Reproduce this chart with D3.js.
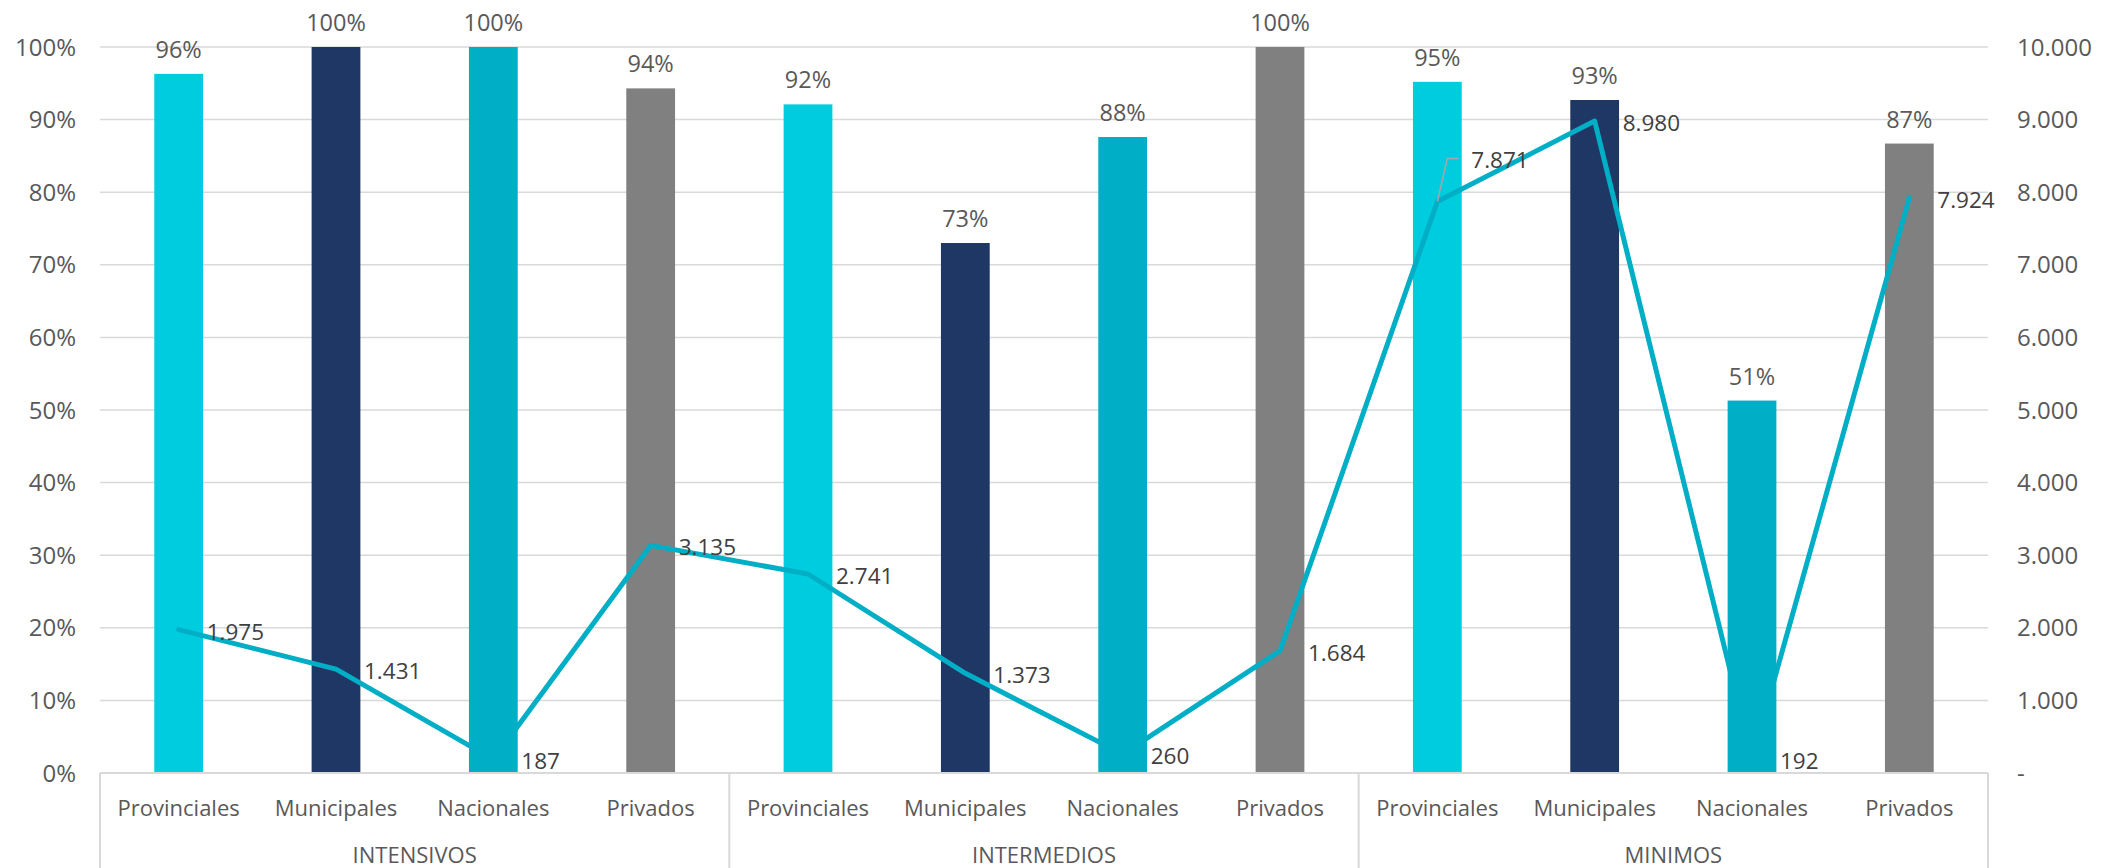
<!DOCTYPE html>
<html>
<head>
<meta charset="utf-8">
<script src="https://cdn.jsdelivr.net/npm/d3@7"></script>
<style>
  html, body { margin: 0; padding: 0; background: #ffffff; }
  svg { display: block; }
  text { font-family: "Open Sans", "Noto Sans", sans-serif; }
</style>
</head>
<body>
<svg id="chart" width="2106" height="868"></svg>
<script>
// ---- data ----
const groups = ["INTENSIVOS", "INTERMEDIOS", "MINIMOS"];
const types = ["Provinciales", "Municipales", "Nacionales", "Privados"];
const pctValues = [0.963, 1.0, 1.0, 0.943, 0.921, 0.730, 0.876, 1.0, 0.952, 0.927, 0.513, 0.867];
const countValues = [1975, 1431, 187, 3135, 2741, 1373, 260, 1684, 7871, 8980, 192, 7924];
const pctTicks = [0, 0.1, 0.2, 0.3, 0.4, 0.5, 0.6, 0.7, 0.8, 0.9, 1.0];
const countTicks = [0, 1000, 2000, 3000, 4000, 5000, 6000, 7000, 8000, 9000, 10000];
const typeColors = ["#00CCE0", "#1F3765", "#00AEC5", "#808080"];
const lineColor = "#00AEC5";

// ---- layout ----
const W = 2106, H = 868;
const mLeft = 100, mRight = 1988, mTop = 47, mBottom = 773;

const rows = [];
groups.forEach((g, gi) => types.forEach((t, ti) => {
  const i = gi * types.length + ti;
  rows.push({ i, group: g, type: t, ti, pct: pctValues[i], count: countValues[i] });
}));

const svg = d3.select("#chart");

const x = d3.scaleBand().domain(rows.map(d => d.i)).range([mLeft, mRight])
  .paddingInner(0.69).paddingOuter(0.345);
const xg = d3.scaleBand().domain(groups).range([mLeft, mRight]);
const yL = d3.scaleLinear().domain([0, 1]).range([mBottom, mTop]);
const yR = d3.scaleLinear().domain([0, 10000]).range([mBottom, mTop]);
const cx = i => x(i) + x.bandwidth() / 2;
const fmtCount = v => d3.format(",")(v).replace(/,/g, ".");

// gridlines
svg.append("g").selectAll("line").data(pctTicks.slice(1)).join("line")
  .attr("x1", mLeft).attr("x2", mRight)
  .attr("y1", d => yL(d)).attr("y2", d => yL(d))
  .attr("stroke", "#d9d9d9").attr("stroke-width", 1.5);

// left axis
const axL = svg.append("g").attr("transform", `translate(${mLeft - 24},0)`)
  .call(d3.axisLeft(yL).tickValues(pctTicks).tickSize(0).tickPadding(0)
    .tickFormat(d => Math.round(d * 100) + "%"));
axL.select(".domain").remove();
axL.selectAll("text").attr("font-size", 24).attr("fill", "#595959")
  .attr("font-family", "Open Sans").attr("dy", "0.34em");

// right axis
const axR = svg.append("g").attr("transform", `translate(2017,0)`)
  .call(d3.axisRight(yR).tickValues(countTicks).tickSize(0).tickPadding(0)
    .tickFormat(d => d === 0 ? "-" : fmtCount(d)));
axR.select(".domain").remove();
axR.selectAll("text").attr("font-size", 24).attr("fill", "#595959")
  .attr("font-family", "Open Sans").attr("dy", "0.34em").attr("text-anchor", "start");

// bars
svg.append("g").selectAll("rect").data(rows).join("rect")
  .attr("x", d => x(d.i)).attr("width", x.bandwidth())
  .attr("y", d => yL(d.pct)).attr("height", d => mBottom - yL(d.pct))
  .attr("fill", d => typeColors[d.ti]);

// bar labels
svg.append("g").selectAll("text").data(rows).join("text")
  .attr("x", d => cx(d.i)).attr("y", d => yL(d.pct) - 16)
  .attr("text-anchor", "middle").attr("font-size", 23.5).attr("fill", "#595959")
  .text(d => Math.round(d.pct * 100) + "%");

// category axis lines
const axG = svg.append("g");
axG.append("line").attr("x1", mLeft).attr("x2", mRight).attr("y1", mBottom).attr("y2", mBottom)
  .attr("stroke", "#d9d9d9").attr("stroke-width", 2);
const dividers = groups.map(g => xg(g)).concat([mRight]);
axG.selectAll("line.div").data(dividers).join("line").attr("class", "div")
  .attr("x1", d => d).attr("x2", d => d).attr("y1", mBottom).attr("y2", H)
  .attr("stroke", "#d9d9d9").attr("stroke-width", 2);

// category labels
svg.append("g").selectAll("text").data(rows).join("text")
  .attr("x", d => cx(d.i)).attr("y", 816)
  .attr("text-anchor", "middle").attr("font-size", 22).attr("fill", "#595959")
  .text(d => d.type);

// group labels
svg.append("g").selectAll("text").data(groups).join("text")
  .attr("x", d => xg(d) + xg.bandwidth() / 2).attr("y", 863)
  .attr("text-anchor", "middle").attr("font-size", 22).attr("fill", "#595959")
  .text(d => d);

// line
const line = d3.line().x(d => cx(d.i)).y(d => yR(d.count));
svg.append("path").datum(rows).attr("d", line)
  .attr("fill", "none").attr("stroke", lineColor).attr("stroke-width", 5)
  .attr("stroke-linejoin", "round").attr("stroke-linecap", "round");

// line labels (one label moved up with a leader line)
const movedLabels = { 8: { dy: -44 } };
const lbl = svg.append("g");
rows.forEach(d => {
  const px = cx(d.i), py = yR(d.count);
  const m = movedLabels[d.i];
  if (m) {
    lbl.append("path")
      .attr("d", `M${px},${py}L${px + 10},${py + m.dy + 1}L${px + 21},${py + m.dy + 1}`)
      .attr("fill", "none").attr("stroke", "#a6a6a6").attr("stroke-width", 1.5);
    lbl.append("text").attr("x", px + 34).attr("y", py + m.dy + 10)
      .attr("font-size", 22.5).attr("fill", "#404040")
      .text(fmtCount(d.count));
  } else {
    lbl.append("text").attr("x", px + 28).attr("y", py + 10)
      .attr("font-size", 22.5).attr("fill", "#404040")
      .text(fmtCount(d.count));
  }
});
</script>
</body>
</html>
